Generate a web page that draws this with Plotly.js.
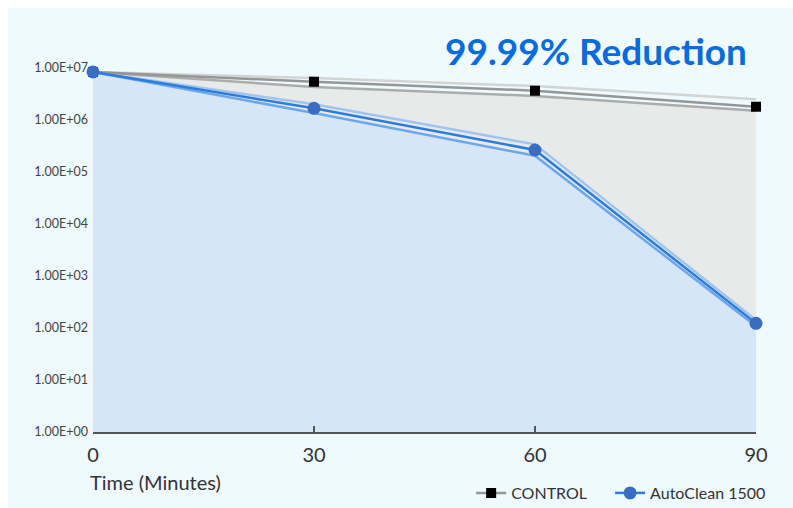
<!DOCTYPE html>
<html>
<head>
<meta charset="utf-8">
<script src="https://cdn.plot.ly/plotly-3.0.1.min.js"></script>
<style>
  html, body { margin: 0; padding: 0; background: #ffffff; width: 793px; height: 508px; overflow: hidden; }
  #chart { position: absolute; left: 8px; top: 8px; width: 785px; height: 500px; }
</style>
</head>
<body>
<div id="chart"></div>
<script>
// ---- data ----
const minutes = [0, 30, 60, 90];
const controlMean  = [8.4e6, 5.45e6, 3.66e6, 1.8e6];
const controlUpper = [8.4e6, 6.4e6, 4.5e6, 2.5e6];
const controlLower = [8.4e6, 4.3e6, 2.9e6, 1.5e6];
const autoMean  = [8.4e6, 1.68e6, 2.65e5, 123];
const autoUpper = [8.4e6, 2.0e6, 3.4e5, 142];
const autoLower = [8.4e6, 1.36e6, 2.05e5, 108];
const baseline = [1, 1, 1, 1];
const yTickVals = [1, 10, 100, 1000, 10000, 100000, 1000000, 10000000];
const yTickText = ["1.00E+00", "1.00E+01", "1.00E+02", "1.00E+03", "1.00E+04", "1.00E+05", "1.00E+06", "1.00E+07"];
const xTickVals = [0, 30, 60, 90];
const seriesNames = ["CONTROL", "AutoClean 1500"];
const headline = "99.99% Reduction";
const xTitle = "Time (Minutes)";

const FONT = "Lato, 'Noto Sans', sans-serif";

const traces = [
  { x: minutes, y: baseline, mode: "lines", line: { width: 0 }, showlegend: false, hoverinfo: "skip" },
  { x: minutes, y: controlLower, mode: "lines", line: { width: 0 }, fill: "tonexty", fillcolor: "#E8EAEA", showlegend: false, hoverinfo: "skip" },
  { x: minutes, y: baseline, mode: "lines", line: { width: 0 }, showlegend: false, hoverinfo: "skip" },
  { x: minutes, y: autoLower, mode: "lines", line: { width: 0 }, fill: "tonexty", fillcolor: "#D6E6F7", showlegend: false, hoverinfo: "skip" },
  { x: minutes, y: controlUpper, mode: "lines", line: { color: "#D2D4D4", width: 2.5 }, showlegend: false, hoverinfo: "skip" },
  { x: minutes, y: controlLower, mode: "lines", line: { color: "#ABADAD", width: 2.5 }, showlegend: false, hoverinfo: "skip" },
  { x: minutes, y: autoUpper, mode: "lines", line: { color: "#9EC5EF", width: 2.5 }, showlegend: false, hoverinfo: "skip" },
  { x: minutes, y: autoLower, mode: "lines", line: { color: "#6CA7EA", width: 2.5 }, showlegend: false, hoverinfo: "skip" },
  { x: minutes, y: controlMean, name: seriesNames[0], mode: "lines+markers", legend: "legend",
    line: { color: "#959797", width: 2.5 },
    marker: { symbol: "square", size: 10, color: "#000000" }, cliponaxis: false },
  { x: minutes, y: autoMean, name: seriesNames[1], mode: "lines+markers", legend: "legend2",
    line: { color: "#2C7DDB", width: 2.5 },
    marker: { symbol: "circle", size: 13, color: "#3A6CBF" }, cliponaxis: false }
];

const legendFont = { family: FONT, size: 16, color: "#333333" };

const layout = {
  width: 785, height: 500,
  margin: { l: 85, r: 37, t: 34, b: 76, autoexpand: false },
  paper_bgcolor: "#EEFAFE",
  plot_bgcolor: "#EEFAFE",
  font: { family: FONT, color: "#333333" },
  showlegend: true,
  legend: {
    orientation: "h", xref: "container", yref: "container",
    x: 0.590, xanchor: "left", y: 0.03, yanchor: "middle",
    font: legendFont, bgcolor: "rgba(0,0,0,0)"
  },
  legend2: {
    orientation: "h", xref: "container", yref: "container",
    x: 0.767, xanchor: "left", y: 0.03, yanchor: "middle",
    font: legendFont, bgcolor: "rgba(0,0,0,0)"
  },
  xaxis: {
    range: [0, 90], tickvals: xTickVals, ticktext: xTickVals.map(String),
    showgrid: false, zeroline: false, showline: true, linecolor: "#555555", linewidth: 2,
    ticks: "inside", ticklen: 6, tickcolor: "#555555", tickwidth: 1.5,
    tickfont: { family: FONT, size: 20, color: "#333333" }, ticklabelstandoff: 4
  },
  yaxis: {
    type: "log", range: [0, 7.5], tickvals: yTickVals, ticktext: yTickText,
    showgrid: false, zeroline: false, showline: false, ticks: "",
    tickfont: { family: FONT, size: 12.5, color: "#444444" }, ticklabelstandoff: 4
  },
  annotations: [
    { text: "<b>" + headline + "</b>", xref: "paper", yref: "paper",
      x: 0.99, xanchor: "right", y: 0.979, yanchor: "middle", showarrow: false,
      font: { family: FONT, size: 37, color: "#0A6BDC" } },
    { text: xTitle, xref: "paper", yref: "paper",
      x: -0.008, xanchor: "left", y: -0.128, yanchor: "middle", showarrow: false,
      font: { family: FONT, size: 20, color: "#333333" } }
  ]
};

Plotly.newPlot("chart", traces, layout, { displayModeBar: false, staticPlot: true });
</script>
</body>
</html>
